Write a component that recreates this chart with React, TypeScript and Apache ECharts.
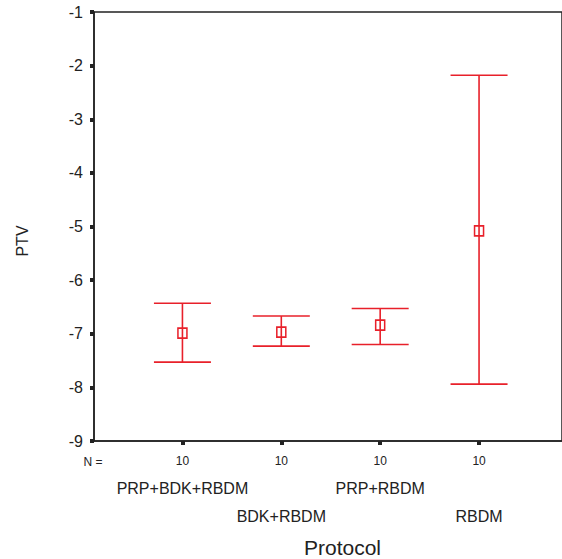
import React, { useEffect, useRef } from 'react';
import * as echarts from 'echarts';

const categories = ['PRP+BDK+RBDM', 'BDK+RBDM', 'PRP+RBDM', 'RBDM'];
const nValues = [10, 10, 10, 10];
const means = [-6.99, -6.97, -6.84, -5.08];
const lowerCI = [-7.53, -7.23, -7.2, -7.94];
const upperCI = [-6.43, -6.67, -6.53, -2.18];
const yMin = -9;
const yMax = -1;

const RED = '#e8202a';
const INK = '#222222';
const FONT = '"Liberation Sans", Arial, Helvetica, sans-serif';

export default function App() {
  const ref = useRef<HTMLDivElement>(null);

  useEffect(() => {
    if (!ref.current) return;
    const chart = echarts.init(ref.current, undefined, { renderer: 'svg' });
    const positions = categories.map((_, i) => i + 1);
    const xMin = 0.1055;
    const xMax = 4.839;

    const baseX = {
      type: 'value',
      min: xMin,
      max: xMax,
      position: 'bottom',
      splitLine: { show: false },
    };

    chart.setOption({
      animation: false,
      backgroundColor: '#ffffff',
      textStyle: { fontFamily: FONT },
      grid: { left: 94, top: 12, right: -3, bottom: 118, show: true, borderColor: INK, borderWidth: 1.5, backgroundColor: 'transparent' },
      xAxis: [
        {
          ...baseX,
          axisLine: { show: true, onZero: false, lineStyle: { color: INK, width: 1.5 } },
          axisTick: { show: true, customValues: positions, length: 4, lineStyle: { color: INK, width: 4 } },
          axisLabel: {
            customValues: positions,
            formatter: (v: number) => String(nValues[Math.round(v) - 1]),
            fontSize: 12,
            color: INK,
            margin: 14,
            fontFamily: FONT,
          },
        },
        {
          ...baseX,
          axisLine: { show: false },
          axisTick: { show: false },
          axisLabel: {
            customValues: [1, 3],
            formatter: (v: number) => categories[Math.round(v) - 1],
            fontSize: 16,
            color: INK,
            margin: 39,
            fontFamily: FONT,
          },
        },
        {
          ...baseX,
          axisLine: { show: false },
          axisTick: { show: false },
          axisLabel: {
            customValues: [2, 4],
            formatter: (v: number) => categories[Math.round(v) - 1],
            fontSize: 16,
            color: INK,
            margin: 67,
            fontFamily: FONT,
          },
        },
      ],
      yAxis: {
        type: 'value',
        min: yMin,
        max: yMax,
        interval: 1,
        axisLine: { show: true, lineStyle: { color: INK, width: 1.5 } },
        axisTick: { show: true, length: 4, lineStyle: { color: INK, width: 4 } },
        axisLabel: { fontSize: 16, color: INK, margin: 11, fontFamily: FONT },
        splitLine: { show: false },
      },
      graphic: [
        { type: 'text', x: 93, y: 462, style: { text: 'N =', fontSize: 12, fill: INK, font: `12px ${FONT}`, textAlign: 'center', textVerticalAlign: 'middle' } },
        { type: 'text', x: 22, y: 241, rotation: Math.PI / 2, style: { text: 'PTV', fill: INK, font: `16px ${FONT}`, textAlign: 'center', textVerticalAlign: 'middle' } },
        { type: 'text', x: 342.5, y: 547, style: { text: 'Protocol', fill: INK, font: `21px ${FONT}`, textAlign: 'center', textVerticalAlign: 'middle' } },
      ],
      series: [
        {
          type: 'custom',
          xAxisIndex: 0,
          data: positions.map((p, i) => [p, lowerCI[i], upperCI[i]]),
          renderItem: (params: any, api: any) => {
            const x = api.value(0);
            const lo = api.coord([x, api.value(1)]);
            const hi = api.coord([x, api.value(2)]);
            const half = 28.5;
            const style = { stroke: RED, lineWidth: 1.6 };
            return {
              type: 'group',
              children: [
                { type: 'line', shape: { x1: lo[0], y1: lo[1], x2: hi[0], y2: hi[1] }, style },
                { type: 'line', shape: { x1: lo[0] - half, y1: lo[1], x2: lo[0] + half, y2: lo[1] }, style },
                { type: 'line', shape: { x1: hi[0] - half, y1: hi[1], x2: hi[0] + half, y2: hi[1] }, style },
              ],
            };
          },
          z: 2,
        },
        {
          type: 'scatter',
          xAxisIndex: 0,
          data: positions.map((p, i) => [p, means[i]]),
          symbol: 'rect',
          symbolSize: [9, 10],
          itemStyle: { color: 'rgba(255,255,255,0)', borderColor: RED, borderWidth: 1.6, opacity: 1 },
          z: 3,
        },
      ],
    });

    return () => chart.dispose();
  }, []);

  return <div ref={ref} style={{ position: 'fixed', left: 0, top: 0, width: 562, height: 559, background: '#fff' }} />;
}
